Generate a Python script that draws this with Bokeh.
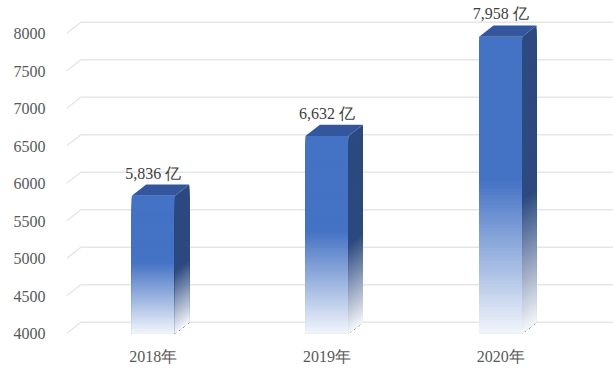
import numpy as np
from bokeh.plotting import figure
from bokeh.models import Range1d, FixedTicker, ColumnDataSource
from bokeh.embed import file_html
from bokeh.resources import INLINE

# ---- data ----
years = ["2018年", "2019年", "2020年"]
values = [5836, 6632, 7958]
value_labels = ["5,836 亿", "6,632 亿", "7,958 亿"]
y_ticks = [4000, 4500, 5000, 5500, 6000, 6500, 7000, 7500, 8000]

# ---- style constants ----
BASE = 4000
DX = 0.083      # 3D depth, category units
DY = 150        # 3D depth, value units
HALF = 0.124    # half bar width
N = 90          # gradient strips
FONT = "Liberation Serif"
FRONT = (68, 114, 196)
SIDE = (44, 74, 128)
TOP = (52, 86, 156)
X0, X1 = -0.5, 2.65


def mix(c, t):
    r, g, b = [int(round(ci + (255 - ci) * t)) for ci in c]
    return "#%02x%02x%02x" % (r, g, b)


def fade(frac, start=0.48, end_t=0.93):
    if frac <= start:
        return 0.0
    return end_t * ((frac - start) / (1 - start))


p = figure(width=613, height=372, output_backend="svg", toolbar_location=None,
           x_range=Range1d(X0, X1), y_range=Range1d(3907, 8440),
           min_border_left=66, min_border_right=0, min_border_top=0,
           min_border_bottom=32)
p.outline_line_color = None
p.xgrid.visible = False
p.ygrid.visible = False
p.background_fill_color = "white"

# gridlines (left wall + back wall)
gx = [[X0, X0 + DX, X1] for v in y_ticks]
gy = [[v, v + DY, v + DY] for v in y_ticks]
p.multi_line(gx, gy, line_color="#E6E6E6", line_width=1.5)

# bars: each strip spans from its top down to the base, drawn top-to-bottom,
# so later strips cover the lower part of earlier ones (no seams)
for i, v in enumerate(values):
    xl, xr = i - HALF, i + HALF
    edges = np.linspace(v, BASE, N + 1)[:-1]
    tops, cols, scols, sxs, sys = [], [], [], [], []
    for k, y_top in enumerate(edges):
        frac = (k + 0.5) / N
        tops.append(y_top)
        cols.append(mix(FRONT, fade(frac)))
        scols.append(mix(SIDE, fade(frac, start=0.55, end_t=0.95)))
        sxs.append([xr, xr + DX, xr + DX, xr])
        sys.append([BASE, BASE + DY, y_top + DY, y_top])
    p.quad(left=xl, right=xr, top=tops, bottom=BASE, fill_color=cols,
           line_color=None)
    p.patches(sxs, sys, fill_color=scols, line_color=None)
    p.patch([xl, xl + DX, xr + DX, xr], [v, v + DY, v + DY, v],
            fill_color=mix(TOP, 0), line_color=None)

# value labels
src = ColumnDataSource(dict(x=list(range(len(values))),
                            y=[v + DY + 40 for v in values],
                            t=value_labels))
p.text(x="x", y="y", text="t", source=src, text_align="center",
       text_baseline="bottom", text_font_size="16px",
       text_color="#404040", text_font={"value": FONT})

# axes
p.yaxis.ticker = FixedTicker(ticks=y_ticks)
p.yaxis.axis_line_color = None
p.yaxis.major_tick_line_color = None
p.yaxis.minor_tick_line_color = None
p.yaxis.major_tick_out = 0
p.yaxis.major_label_standoff = 21
p.yaxis.major_label_text_font = FONT
p.yaxis.major_label_text_font_size = "16px"
p.yaxis.major_label_text_color = "#595959"

p.xaxis.ticker = FixedTicker(ticks=list(range(len(years))))
p.xaxis.major_label_overrides = {i: y for i, y in enumerate(years)}
p.xaxis.axis_line_color = None
p.xaxis.major_tick_line_color = None
p.xaxis.minor_tick_line_color = None
p.xaxis.major_tick_out = 0
p.xaxis.major_label_standoff = 7
p.xaxis.major_label_text_font = FONT
p.xaxis.major_label_text_font_size = "16px"
p.xaxis.major_label_text_color = "#595959"

open("out.html", "w").write(file_html(p, INLINE))
